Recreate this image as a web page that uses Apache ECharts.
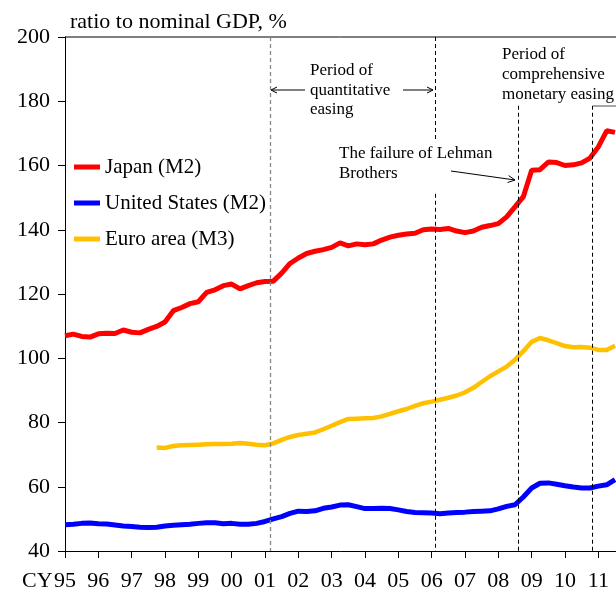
<!DOCTYPE html>
<html><head><meta charset="utf-8">
<script src="https://cdn.jsdelivr.net/npm/echarts@6/dist/echarts.min.js"></script>
<style>html,body{margin:0;padding:0;background:#fff}#c{width:616px;height:590px}</style>
</head><body><div id="c"></div>
<script>
// quarterly data, first point = 1995 Q1
const startYear = 1995;
const japanM2 = [
 107.0,107.5,106.8,106.6,107.6,107.8,107.7,108.8,108.1,107.9,
 109.0,109.9,111.3,114.8,115.8,117.0,117.6,120.5,121.3,122.6,
 123.1,121.6,122.6,123.5,123.9,124.0,126.5,129.5,131.2,132.6,
 133.3,133.8,134.5,135.9,135.0,135.6,135.3,135.6,136.8,137.7,
 138.3,138.7,138.9,140.0,140.2,140.1,140.4,139.6,139.1,139.6,
 140.8,141.3,141.9,144.0,147.1,150.3,158.5,158.7,161.1,160.9,
 160.0,160.2,160.8,162.3,165.8,170.8,170.3
];
const usM2 = [
 48.2,48.3,48.6,48.7,48.5,48.4,48.1,47.8,47.6,47.4,
 47.3,47.4,47.8,48.0,48.2,48.3,48.6,48.8,48.8,48.5,
 48.6,48.3,48.3,48.6,49.2,50.0,50.7,51.7,52.4,52.3,
 52.5,53.3,53.7,54.3,54.4,53.8,53.2,53.2,53.3,53.2,
 52.8,52.3,52.0,51.9,51.8,51.6,51.8,52.0,52.1,52.3,
 52.4,52.5,53.1,53.9,54.4,56.8,59.6,61.1,61.2,60.8,
 60.3,59.9,59.6,59.6,60.2,60.6,62.2
];
// euro area starts 1997 Q4
const euroStartYear = 1997.75;
const euroM3 = [
 72.2,72.1,72.7,72.9,73.0,73.1,73.2,73.3,73.3,
 73.4,73.6,73.4,73.1,72.9,73.5,74.6,75.5,76.1,76.5,
 76.9,77.9,79.0,80.1,81.1,81.2,81.3,81.4,81.9,82.7,
 83.5,84.2,85.2,86.0,86.5,87.1,87.7,88.4,89.4,90.8,
 92.6,94.4,95.9,97.4,99.5,102.2,105.1,106.3,105.6,104.7,
 103.8,103.4,103.5,103.3,102.6,102.6,103.9
];
const seriesNames = ['Japan (M2)','United States (M2)','Euro area (M3)'];
// event dates (year fractions)
const qeStart = 2001.15, qeEnd = 2006.11, lehman = 2008.6, cme = 2010.82;
const yMin = 40, yMax = 200, yStep = 20;
const xMin = 1995, xMax = 2012;

function toPairs(start, arr){ return arr.map((v,i)=>[start + i/4, v]); }

const FONT = 'Liberation Serif';
const chart = echarts.init(document.getElementById('c'), null, {renderer:'canvas'});

const dashBlack = {type:[4,3], color:'#000', width:1};
const dashGray = {type:[4,3], color:'#888', width:1.3};

function vseg(x, y0, y1, style){
  return [{coord:[x,y0], lineStyle:style},{coord:[x,y1]}];
}

const arrowStyle = {stroke:'#000', lineWidth:1, fill:null};

chart.setOption({
  animation:false,
  backgroundColor:'#fff',
  grid:{left:65, top:37, width:566.67, height:514, containLabel:false, outerBoundsMode:'none'},
  legend:{
    data:seriesNames, orient:'vertical', left:69, top:151,
    icon:'rect', itemWidth:26, itemHeight:5, itemGap:14,
    textStyle:{fontFamily:FONT, fontSize:21, color:'#000', lineHeight:22}
  },
  xAxis:{
    type:'value', min:xMin, max:xMax, interval:1,
    axisLine:{show:true, lineStyle:{color:'#000', width:1}},
    axisTick:{show:true, inside:false, length:7, lineStyle:{color:'#000'}},
    splitLine:{show:false},
    axisLabel:{margin:19, fontFamily:FONT, fontSize:22, color:'#000',
      formatter:v=>String(v).slice(2), showMaxLabel:true, showMinLabel:true}
  },
  yAxis:{
    type:'value', min:yMin, max:yMax, interval:yStep,
    axisLine:{show:true, lineStyle:{color:'#000', width:1}},
    axisTick:{show:true, inside:false, length:7, lineStyle:{color:'#000'}},
    splitLine:{show:false},
    axisLabel:{margin:15, fontFamily:FONT, fontSize:22, color:'#000'}
  },
  series:[
    {name:seriesNames[0], type:'line', data:toPairs(startYear, japanM2), symbol:'none',
     lineStyle:{color:'#FF0000', width:5}, itemStyle:{color:'#FF0000'}, z:3,
     markLine:{silent:true, symbol:['none','none'], label:{show:false},
       data:[
         vseg(qeStart, yMax, yMin, dashGray),
         vseg(qeEnd, yMax, 167.7, dashBlack),
         vseg(qeEnd, 151.2, yMin, dashBlack),
         vseg(lehman, 178.6, yMin, dashBlack),
         vseg(cme, 178.6, yMin, dashBlack)
       ]}},
    {name:seriesNames[1], type:'line', data:toPairs(startYear, usM2), symbol:'none',
     lineStyle:{color:'#0000FF', width:5}, itemStyle:{color:'#0000FF'}, z:3},
    {name:seriesNames[2], type:'line', data:toPairs(euroStartYear, euroM3), symbol:'none',
     lineStyle:{color:'#FFC000', width:4.5}, itemStyle:{color:'#FFC000'}, z:3}
  ],
  graphic:[
    {type:'line', shape:{x1:65, y1:37, x2:616, y2:37}, style:{stroke:'#000', lineWidth:1}},
    {type:'text', left:70, top:11, style:{text:'ratio to nominal GDP, %', font:'22px "Liberation Serif"', fill:'#000'}},
    {type:'text', left:22, top:570, style:{text:'CY', font:'22px "Liberation Serif"', fill:'#000'}},
    {type:'text', left:310, top:61, style:{text:'Period of\nquantitative\neasing', font:'17px "Liberation Serif"', fill:'#000', lineHeight:19.5}},
    {type:'text', left:339, top:144, style:{text:'The failure of Lehman\nBrothers', font:'17px "Liberation Serif"', fill:'#000', lineHeight:19.5}},
    {type:'text', left:502, top:45, style:{text:'Period of\ncomprehensive\nmonetary easing', font:'17px "Liberation Serif"', fill:'#000', lineHeight:20}},
    {type:'line', shape:{x1:305, y1:90, x2:271, y2:90}, style:arrowStyle},
    {type:'polyline', shape:{points:[[277,87],[271,90],[277,93]]}, style:arrowStyle},
    {type:'line', shape:{x1:403, y1:90, x2:433, y2:90}, style:arrowStyle},
    {type:'polyline', shape:{points:[[427,87],[433,90],[427,93]]}, style:arrowStyle},
    {type:'line', shape:{x1:451, y1:171, x2:515, y2:180}, style:arrowStyle},
    {type:'polyline', shape:{points:[[507.6,182.5],[515,180],[508.6,175.6]]}, style:arrowStyle},
    {type:'line', shape:{x1:593, y1:106, x2:616, y2:106}, style:{stroke:'#888', lineWidth:1.5}}
  ]
});
</script></body></html>
